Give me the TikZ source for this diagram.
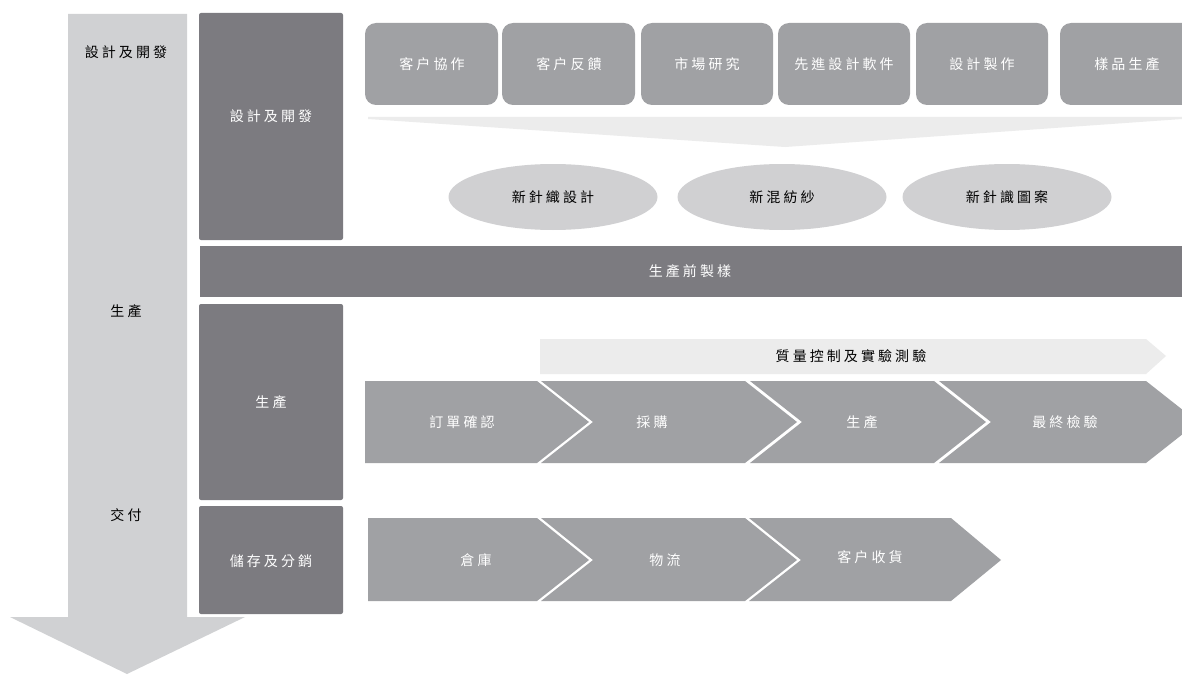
\documentclass[tikz,border=0pt]{standalone}
\usepackage{fontspec}
\newfontfamily\cjk{Noto Sans CJK TC}[LetterSpace=22]
\usetikzlibrary{shapes.geometric}
\definecolor{shaftgray}{HTML}{D0D1D3}
\definecolor{darkgray}{HTML}{7C7B80}
\definecolor{midgray}{HTML}{A0A1A4}
\definecolor{lightgray}{HTML}{ECECEC}
\definecolor{ellgray}{HTML}{D0D0D2}
\tikzset{
  lbl/.style={font=\cjk\fontsize{14}{16}\selectfont, text=white, inner sep=0pt},
  blbl/.style={font=\cjk\fontsize{14}{16}\selectfont, text=black, inner sep=0pt},
  topbox/.style={fill=midgray, rounded corners=11pt},
  chev/.style={fill=midgray},
  ell/.style={ellipse, fill=ellgray, minimum width=209pt, minimum height=66pt, inner sep=0pt}
}
\begin{document}
\begin{tikzpicture}[x=1pt,y=-1pt]
\clip (0,0) rectangle (1182,674);
\fill[white] (0,0) rectangle (1182,674);
% big left arrow
\fill[shaftgray] (68,14) -- (187,14) -- (187,617) -- (245,617) -- (127,674) -- (10,617) -- (68,617) -- cycle;
\node[blbl] (l1) at (126,52) {設計及開發};
\node[blbl] (l2) at (126,311) {生產};
\node[blbl] (l3) at (126,515) {交付};
% dark boxes
\fill[darkgray] (199,13) [rounded corners=2pt] rectangle (343,240);
\node[lbl] (d1) at (271,116) {設計及開發};
\fill[darkgray] (200,246) rectangle (1182,297);
\node[lbl] (bar) at (690,271) {生產前製樣};
\fill[darkgray] (199,304) [rounded corners=2pt] rectangle (343,500);
\node[lbl] (d2) at (271,402) {生產};
\fill[darkgray] (199,506) [rounded corners=2pt] rectangle (343,614);
\node[lbl] (d3) at (271,561) {儲存及分銷};
% top rounded boxes
\fill[topbox] (365,23) rectangle (498,105);
\fill[topbox] (502,23) rectangle (635,105);
\fill[topbox] (641,23) rectangle (773,105);
\fill[topbox] (778,23) rectangle (910,105);
\fill[topbox] (916,23) rectangle (1048,105);
\fill[topbox] (1060,23) rectangle (1200,105);
\node[lbl] (t1) at (432,64) {客户協作};
\node[lbl] (t2) at (569,64) {客户反饋};
\node[lbl] (t3) at (707,64) {市場研究};
\node[lbl] (t4) at (844,64) {先進設計軟件};
\node[lbl] (t5) at (982,64) {設計製作};
\node[lbl] (t6) at (1127,64) {樣品生產};
% funnel
\fill[lightgray] (368,117) -- (1182,117) -- (1182,119) -- (785,147) -- (368,119) -- cycle;
% ellipses
\node[ell] (e1) at (553,197) {};
\node[ell] (e2) at (782,197) {};
\node[ell] (e3) at (1007,197) {};
\node[blbl] at (e1) {新針織設計};
\node[blbl] at (e2) {新混紡紗};
\node[blbl] at (e3) {新針識圖案};
% QC arrow
\fill[lightgray] (540,339) -- (1146,339) -- (1166,356) -- (1146,374) -- (540,374) -- cycle;
\node[blbl] (qc) at (851,356) {質量控制及實驗測驗};
% production chevrons
\fill[chev] (365,381) -- (537,381) -- (589,422) -- (537,463) -- (365,463) -- cycle;
\fill[chev] (541,381) -- (745,381) -- (797,422) -- (745,463) -- (541,463) -- (593,422) -- cycle;
\fill[chev] (750,381) -- (934,381) -- (986,422) -- (934,463) -- (750,463) -- (802,422) -- cycle;
\fill[chev] (939,381) -- (1146,381) -- (1198,422) -- (1146,463) -- (939,463) -- (991,422) -- cycle;
\node[lbl] (p1) at (462,422) {訂單確認};
\node[lbl] (p2) at (652,422) {採購};
\node[lbl] (p3) at (862,422) {生產};
\node[lbl] (p4) at (1065,422) {最終檢驗};
% delivery chevrons
\fill[chev] (368,518) -- (537,518) -- (589,560) -- (537,601) -- (368,601) -- cycle;
\fill[chev] (541,518) -- (745,518) -- (797,560) -- (745,601) -- (541,601) -- (593,560) -- cycle;
\fill[chev] (749,518) -- (951,518) -- (1001,560) -- (951,601) -- (749,601) -- (801,560) -- cycle;
\node[lbl] (q1) at (476,560) {倉庫};
\node[lbl] (q2) at (665,560) {物流};
\node[lbl] (q3) at (870,557) {客户收貨};
\end{tikzpicture}
\end{document}
